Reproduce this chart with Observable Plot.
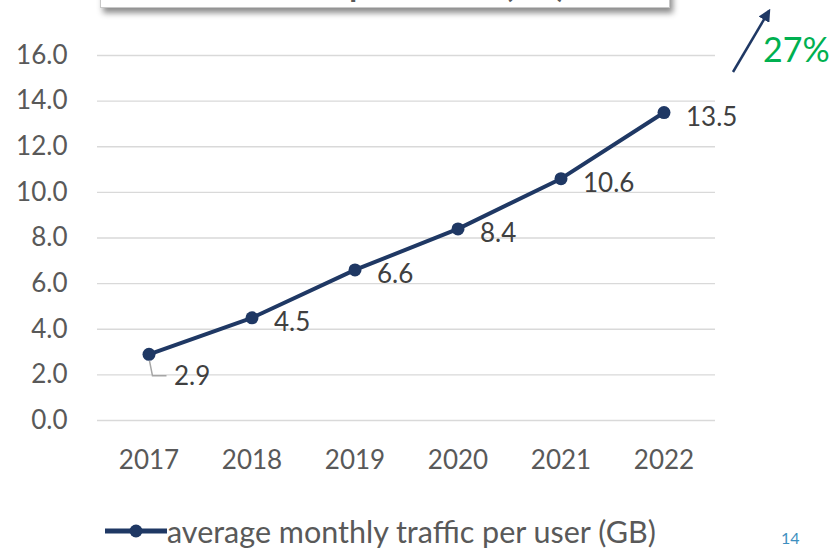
<!DOCTYPE html>
<html>
<head>
<meta charset="utf-8">
<script src="https://cdn.jsdelivr.net/npm/d3@7"></script>
<script src="https://cdn.jsdelivr.net/npm/@observablehq/plot@0.6"></script>
<style>
  html, body { margin: 0; padding: 0; background: #fff; }
  #wrap { position: relative; width: 830px; height: 550px; overflow: hidden; font-family: Lato, "Open Sans", sans-serif; }
  #titlebox { position: absolute; left: 100px; top: -40px; width: 568px; height: 46px; background: #fff;
    border: 1px solid #c8c8c8; box-shadow: 3px 5px 6px rgba(0,0,0,0.45); overflow: hidden; }
  #titlebox span { position: absolute; left: 80px; top: 8px; line-height: 1; font-size: 32px; font-weight: bold; color: #595959; white-space: nowrap; }
  #chart { position: absolute; left: 0; top: 0; }
  #legend { position: absolute; left: 105px; top: 513px; display: flex; align-items: center; font-size: 30.5px; color: #595959; }
  #page { position: absolute; left: 781px; top: 528px; font-size: 16px; color: #3e8fc0; }
  #growth { position: absolute; left: 763px; top: 28px; font-size: 34px; color: #00b050; }
  #arrow { position: absolute; left: 0; top: 0; }
</style>
</head>
<body>
<div id="wrap">
  <div id="titlebox"><span>Data traffic per month (GB)</span></div>
  <div id="chart"></div>
  <svg id="arrow" width="830" height="550">
    <defs>
      <marker id="ah" viewBox="0 0 10 10" refX="8" refY="5" markerWidth="5" markerHeight="5" orient="auto">
        <path d="M0,0 L10,5 L0,10 z" fill="#1f3864"/>
      </marker>
    </defs>
    <line x1="733" y1="72" x2="769" y2="11" stroke="#1f3864" stroke-width="2.5" marker-end="url(#ah)"/>
  </svg>
  <div id="growth">27%</div>
  <div id="legend">
    <svg width="62" height="20"><line x1="0" y1="10" x2="62" y2="10" stroke="#1f3864" stroke-width="5"/><circle cx="31" cy="10" r="6.5" fill="#1f3864"/></svg>
    <span>average monthly traffic per user (GB)</span>
  </div>
  <div id="page">14</div>
</div>
<script>
const years = ["2017", "2018", "2019", "2020", "2021", "2022"];
const traffic = [2.9, 4.5, 6.6, 8.4, 10.6, 13.5];
const yTicks = [0, 2, 4, 6, 8, 10, 12, 14, 16];
const seriesName = "average monthly traffic per user (GB)";

const data = years.map((y, i) => ({year: y, value: traffic[i]}));
const navy = "#1f3864";
const labelColor = "#404040";

const leader = (index, scales, values, dims, ctx) => {
  const g = d3.create("svg:g");
  for (const i of index) {
    const d = data[i];
    const x = scales.x(d.year) + scales.x.bandwidth() / 2;
    const y = scales.y(d.value);
    g.append("path")
      .attr("d", `M${x + 1},${y + 7} L${x + 4},${y + 22} L${x + 18},${y + 22}`)
      .attr("fill", "none").attr("stroke", "#a6a6a6").attr("stroke-width", 1.5);
  }
  return g.node();
};

const chart = Plot.plot({
  width: 830,
  height: 550,
  marginLeft: 97,
  marginRight: 115,
  marginTop: 55,
  marginBottom: 130,
  style: {fontFamily: "Lato, 'Open Sans', sans-serif", background: "transparent"},
  x: {type: "band", domain: years, padding: 0, label: null},
  y: {domain: [0, 16], label: null},
  marks: [
    Plot.gridY(yTicks, {stroke: "#d9d9d9", strokeOpacity: 1, strokeWidth: 1.3}),
    Plot.axisY(yTicks, {tickFormat: d => d.toFixed(1), tickSize: 0, tickPadding: 30, fontSize: 26, fill: "#595959", label: null}),
    Plot.axisX({tickSize: 0, tickPadding: 30, fontSize: 26, fill: "#595959", label: null}),
    Plot.line(data, {x: "year", y: "value", stroke: navy, strokeWidth: 4}),
    Plot.dot(data, {x: "year", y: "value", fill: navy, r: 6.5}),
    Plot.dot(data.filter(d => d.year === years[0]), {x: "year", y: "value", r: 0, render: leader}),
    Plot.text(data.filter(d => d.year !== years[0]), {x: "year", y: "value", text: d => d.value.toFixed(1), textAnchor: "start", dx: 22, dy: 5, fontSize: 26, fill: labelColor}),
    Plot.text(data.filter(d => d.year === years[0]), {x: "year", y: "value", text: d => d.value.toFixed(1), textAnchor: "start", dx: 25, dy: 22, fontSize: 26, fill: labelColor})
  ]
});
document.getElementById("chart").appendChild(chart);
</script>
</body>
</html>
